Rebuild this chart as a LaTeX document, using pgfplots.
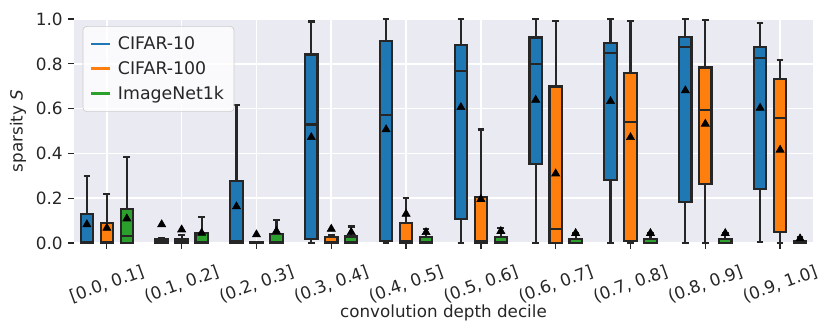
\documentclass[border=0pt]{standalone}
\usepackage{fontspec}
\setmainfont{DejaVu Sans}
\usepackage{pgfplots}
\pgfplotsset{compat=1.18}
\usepgfplotslibrary{statistics}
\definecolor{c10}{RGB}{31,119,180}
\definecolor{c100}{RGB}{255,127,14}
\definecolor{cin}{RGB}{44,160,44}
\definecolor{bgax}{RGB}{234,234,242}
\definecolor{txt}{RGB}{38,38,38}

\pgfplotsset{
  bx/.style={forget plot, draw=black!85, line width=1.4pt, fill=#1,
    boxplot/draw direction=y,
    boxplot/box extend=0.165, boxplot/whisker extend=0.09,
    boxplot/every box/.style={draw=black!85, line width=1.4pt},
    boxplot/every whisker/.style={draw=black!85, line width=1.4pt},
    boxplot/every median/.style={draw=black!85, line width=1.4pt},
  },
  avg/.style={forget plot, only marks, mark=triangle*, mark size=3.0pt,
    mark options={draw=black, fill=black, line width=0.4pt}},
}

\begin{document}
\begin{tikzpicture}
\begin{axis}[name=ax,
  scale only axis, width=476.8pt, height=144.5pt,
  xmin=-0.44, xmax=9.44, ymin=0, ymax=1,
  clip=false,
  axis background/.style={fill=bgax},
  axis line style={draw=none},
  grid=major, major grid style={white, line width=1pt},
  tick align=outside, tick pos=left, major tick length=3.7pt,
  tick style={txt, line width=0.8pt},
  xtick={0,1,2,3,4,5,6,7,8,9},
  xticklabels={{[0.0, 0.1]},{(0.1, 0.2]},{(0.2, 0.3]},{(0.3, 0.4]},{(0.4, 0.5]},
    {(0.5, 0.6]},{(0.6, 0.7]},{(0.7, 0.8]},{(0.8, 0.9]},{(0.9, 1.0]}},
  ytick={0,0.2,0.4,0.6,0.8,1},
  yticklabel style={/pgf/number format/.cd, fixed, fixed zerofill, precision=1},
  /pgf/number format/assume math mode=true,
  ticklabel style={font=\fontsize{10.9}{13}\selectfont, text=txt},
  xticklabel style={anchor=center, yshift=-23pt, rotate=20},
  xlabel={convolution depth decile},
  ylabel={sparsity {\itshape S}},
  label style={font=\fontsize{10.8}{13}\selectfont, text=txt},
  xlabel style={at={(axis description cs:0.5,-0.3125)}, anchor=center},
  ylabel style={at={(axis description cs:-0.0758,0.5)}, anchor=center},
  legend style={at={(0.0118,0.969)}, anchor=north west, fill=white,
    fill opacity=0.8, text opacity=1, draw=black!20, rounded corners=2.5pt,
    font=\fontsize{11.2}{13.2}\selectfont, text=txt, row sep=2.2pt,
    inner xsep=4.5pt, inner ysep=4.5pt},
  legend cell align=left,
  legend image code/.code={\draw[#1, line width=1.8pt] (0pt,0pt) -- (12.3pt,0pt); \path (15pt,0pt);},
]
\addlegendimage{c10}\addlegendentry{CIFAR-10}
\addlegendimage{c100}\addlegendentry{CIFAR-100}
\addlegendimage{cin}\addlegendentry{ImageNet1k}

% CIFAR-10
\addplot[bx=c10, boxplot prepared={draw position=-0.267, lower whisker=0, lower quartile=0, median=0.005, upper quartile=0.130, upper whisker=0.298}] coordinates {};
\addplot[bx=c10, boxplot prepared={draw position=0.733, lower whisker=0, lower quartile=0, median=0.004, upper quartile=0.016, upper whisker=0.022}] coordinates {};
\addplot[bx=c10, boxplot prepared={draw position=1.733, lower whisker=0, lower quartile=0, median=0.011, upper quartile=0.278, upper whisker=0.615}] coordinates {};
\addplot[bx=c10, boxplot prepared={draw position=2.733, lower whisker=0, lower quartile=0.017, median=0.529, upper quartile=0.842, upper whisker=0.989}] coordinates {};
\addplot[bx=c10, boxplot prepared={draw position=3.733, lower whisker=0, lower quartile=0.008, median=0.571, upper quartile=0.901, upper whisker=1.0}] coordinates {};
\addplot[bx=c10, boxplot prepared={draw position=4.733, lower whisker=0, lower quartile=0.108, median=0.770, upper quartile=0.884, upper whisker=1.0}] coordinates {};
\addplot[bx=c10, boxplot prepared={draw position=5.733, lower whisker=0, lower quartile=0.352, median=0.801, upper quartile=0.918, upper whisker=1.0}] coordinates {};
\addplot[bx=c10, boxplot prepared={draw position=6.733, lower whisker=0, lower quartile=0.283, median=0.847, upper quartile=0.894, upper whisker=1.0}] coordinates {};
\addplot[bx=c10, boxplot prepared={draw position=7.733, lower whisker=0, lower quartile=0.185, median=0.874, upper quartile=0.920, upper whisker=1.0}] coordinates {};
\addplot[bx=c10, boxplot prepared={draw position=8.733, lower whisker=0.004, lower quartile=0.242, median=0.828, upper quartile=0.876, upper whisker=0.984}] coordinates {};

% CIFAR-100
\addplot[bx=c100, boxplot prepared={draw position=0, lower whisker=0, lower quartile=0, median=0.003, upper quartile=0.089, upper whisker=0.220}] coordinates {};
\addplot[bx=c100, boxplot prepared={draw position=1, lower whisker=0, lower quartile=0, median=0.008, upper quartile=0.018, upper whisker=0.037}] coordinates {};
\addplot[bx=c100, boxplot prepared={draw position=2, lower whisker=0, lower quartile=0, median=0.001, upper quartile=0.003, upper whisker=0.005}] coordinates {};
\addplot[bx=c100, boxplot prepared={draw position=3, lower whisker=0, lower quartile=0, median=0.003, upper quartile=0.026, upper whisker=0.035}] coordinates {};
\addplot[bx=c100, boxplot prepared={draw position=4, lower whisker=0, lower quartile=0, median=0.011, upper quartile=0.088, upper whisker=0.203}] coordinates {};
\addplot[bx=c100, boxplot prepared={draw position=5, lower whisker=0, lower quartile=0, median=0.011, upper quartile=0.206, upper whisker=0.507}] coordinates {};
\addplot[bx=c100, boxplot prepared={draw position=6, lower whisker=0, lower quartile=0, median=0.063, upper quartile=0.699, upper whisker=0.993}] coordinates {};
\addplot[bx=c100, boxplot prepared={draw position=7, lower whisker=0, lower quartile=0.008, median=0.541, upper quartile=0.758, upper whisker=0.993}] coordinates {};
\addplot[bx=c100, boxplot prepared={draw position=8, lower whisker=0, lower quartile=0.264, median=0.595, upper quartile=0.784, upper whisker=0.997}] coordinates {};
\addplot[bx=c100, boxplot prepared={draw position=9, lower whisker=0, lower quartile=0.048, median=0.559, upper quartile=0.731, upper whisker=0.819}] coordinates {};

% ImageNet1k
\addplot[bx=cin, boxplot prepared={draw position=0.267, lower whisker=0, lower quartile=0, median=0.031, upper quartile=0.153, upper whisker=0.386}] coordinates {};
\addplot[bx=cin, boxplot prepared={draw position=1.267, lower whisker=0, lower quartile=0, median=0.005, upper quartile=0.046, upper whisker=0.115}] coordinates {};
\addplot[bx=cin, boxplot prepared={draw position=2.267, lower whisker=0, lower quartile=0, median=0.004, upper quartile=0.041, upper whisker=0.103}] coordinates {};
\addplot[bx=cin, boxplot prepared={draw position=3.267, lower whisker=0, lower quartile=0, median=0.004, upper quartile=0.029, upper whisker=0.074}] coordinates {};
\addplot[bx=cin, boxplot prepared={draw position=4.267, lower whisker=0, lower quartile=0, median=0.003, upper quartile=0.026, upper whisker=0.063}] coordinates {};
\addplot[bx=cin, boxplot prepared={draw position=5.267, lower whisker=0, lower quartile=0, median=0.003, upper quartile=0.026, upper whisker=0.069}] coordinates {};
\addplot[bx=cin, boxplot prepared={draw position=6.267, lower whisker=0, lower quartile=0, median=0.002, upper quartile=0.019, upper whisker=0.045}] coordinates {};
\addplot[bx=cin, boxplot prepared={draw position=7.267, lower whisker=0, lower quartile=0, median=0.002, upper quartile=0.019, upper whisker=0.045}] coordinates {};
\addplot[bx=cin, boxplot prepared={draw position=8.267, lower whisker=0, lower quartile=0, median=0.002, upper quartile=0.017, upper whisker=0.043}] coordinates {};
\addplot[bx=cin, boxplot prepared={draw position=9.267, lower whisker=0, lower quartile=0, median=0.001, upper quartile=0.011, upper whisker=0.025}] coordinates {};

% means (triangles)
\addplot[avg] coordinates {(-0.267,0.083) (0.733,0.083) (1.733,0.163) (2.733,0.472) (3.733,0.507)
  (4.733,0.606) (5.733,0.639) (6.733,0.633) (7.733,0.681) (8.733,0.603)};
\addplot[avg] coordinates {(0,0.067) (1,0.060) (2,0.038) (3,0.063) (4,0.130)
  (5,0.196) (6,0.310) (7,0.472) (8,0.532) (9,0.416)};
\addplot[avg] coordinates {(0.267,0.109) (1.267,0.045) (2.267,0.053) (3.267,0.048) (4.267,0.048)
  (5.267,0.053) (6.267,0.044) (7.267,0.044) (8.267,0.044) (9.267,0.020)};
\end{axis}
\pgfresetboundingbox
\path ([shift={(-47.7pt,-58.1pt)}]ax.south west) rectangle ([shift={(11.6pt,12.3pt)}]ax.north east);
\end{tikzpicture}
\end{document}
